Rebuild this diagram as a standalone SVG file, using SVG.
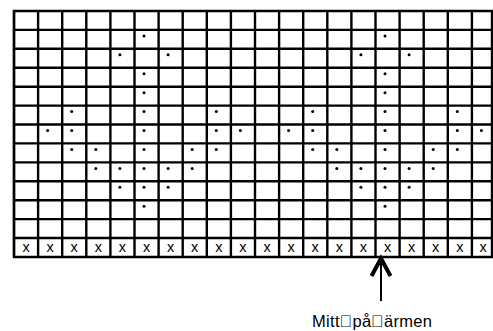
<svg xmlns="http://www.w3.org/2000/svg" width="493" height="331" viewBox="0 0 493 331">
<defs>
<style>
.g line{stroke:#000;stroke-width:2.4}
.x{font-family:"Liberation Sans",Arial,sans-serif;font-size:14.5px;text-anchor:middle;fill:#000}
.lbl{font-family:"Liberation Sans",Arial,sans-serif;font-size:16.5px;fill:#000}
.a{fill:none;stroke:#000}
</style>
<circle id="d" r="1.5" fill="#000"/>
</defs>
<rect width="493" height="331" fill="#fff"/>
<g id="grid" class="g">
<line x1="14" y1="11" x2="14" y2="257"/>
<line x1="38.1" y1="11" x2="38.1" y2="257"/>
<line x1="62.2" y1="11" x2="62.2" y2="257"/>
<line x1="86.3" y1="11" x2="86.3" y2="257"/>
<line x1="110.4" y1="11" x2="110.4" y2="257"/>
<line x1="134.5" y1="11" x2="134.5" y2="257"/>
<line x1="158.6" y1="11" x2="158.6" y2="257"/>
<line x1="182.7" y1="11" x2="182.7" y2="257"/>
<line x1="206.8" y1="11" x2="206.8" y2="257"/>
<line x1="230.9" y1="11" x2="230.9" y2="257"/>
<line x1="255" y1="11" x2="255" y2="257"/>
<line x1="279.1" y1="11" x2="279.1" y2="257"/>
<line x1="303.2" y1="11" x2="303.2" y2="257"/>
<line x1="327.3" y1="11" x2="327.3" y2="257"/>
<line x1="351.4" y1="11" x2="351.4" y2="257"/>
<line x1="375.5" y1="11" x2="375.5" y2="257"/>
<line x1="399.6" y1="11" x2="399.6" y2="257"/>
<line x1="423.7" y1="11" x2="423.7" y2="257"/>
<line x1="447.8" y1="11" x2="447.8" y2="257"/>
<line x1="471.9" y1="11" x2="471.9" y2="257"/>
<line x1="492" y1="11" x2="492" y2="257"/>
<line x1="13" y1="11" x2="493" y2="11"/>
<line x1="13" y1="29.9" x2="493" y2="29.9"/>
<line x1="13" y1="48.8" x2="493" y2="48.8"/>
<line x1="13" y1="67.8" x2="493" y2="67.8"/>
<line x1="13" y1="86.7" x2="493" y2="86.7"/>
<line x1="13" y1="105.6" x2="493" y2="105.6"/>
<line x1="13" y1="124.5" x2="493" y2="124.5"/>
<line x1="13" y1="143.4" x2="493" y2="143.4"/>
<line x1="13" y1="162.4" x2="493" y2="162.4"/>
<line x1="13" y1="181.3" x2="493" y2="181.3"/>
<line x1="13" y1="200.2" x2="493" y2="200.2"/>
<line x1="13" y1="219.1" x2="493" y2="219.1"/>
<line x1="13" y1="238" x2="493" y2="238"/>
<line x1="13" y1="257" x2="493" y2="257"/>
<line x1="14" y1="10" x2="14" y2="258" stroke-width="3"/>
</g>
<g id="dots">
<use href="#d" x="144" y="35.9"/><use href="#d" x="385" y="35.9"/>
<use href="#d" x="119.9" y="54.8"/><use href="#d" x="168.1" y="54.8"/><use href="#d" x="360.9" y="54.8"/><use href="#d" x="409.1" y="54.8"/>
<use href="#d" x="144" y="73.8"/><use href="#d" x="385" y="73.8"/>
<use href="#d" x="144" y="92.7"/><use href="#d" x="385" y="92.7"/>
<use href="#d" x="71.7" y="111.6"/><use href="#d" x="144" y="111.6"/><use href="#d" x="216.3" y="111.6"/><use href="#d" x="312.7" y="111.6"/><use href="#d" x="385" y="111.6"/><use href="#d" x="457.3" y="111.6"/>
<use href="#d" x="47.6" y="130.5"/><use href="#d" x="71.7" y="130.5"/><use href="#d" x="144" y="130.5"/><use href="#d" x="216.3" y="130.5"/><use href="#d" x="240.4" y="130.5"/><use href="#d" x="288.6" y="130.5"/><use href="#d" x="312.7" y="130.5"/><use href="#d" x="385" y="130.5"/><use href="#d" x="457.3" y="130.5"/><use href="#d" x="481.4" y="130.5"/>
<use href="#d" x="71.7" y="149.4"/><use href="#d" x="95.8" y="149.4"/><use href="#d" x="144" y="149.4"/><use href="#d" x="192.2" y="149.4"/><use href="#d" x="216.3" y="149.4"/><use href="#d" x="312.7" y="149.4"/><use href="#d" x="336.8" y="149.4"/><use href="#d" x="385" y="149.4"/><use href="#d" x="433.2" y="149.4"/><use href="#d" x="457.3" y="149.4"/>
<use href="#d" x="95.8" y="168.4"/><use href="#d" x="119.9" y="168.4"/><use href="#d" x="144" y="168.4"/><use href="#d" x="168.1" y="168.4"/><use href="#d" x="192.2" y="168.4"/><use href="#d" x="336.8" y="168.4"/><use href="#d" x="360.9" y="168.4"/><use href="#d" x="385" y="168.4"/><use href="#d" x="409.1" y="168.4"/><use href="#d" x="433.2" y="168.4"/>
<use href="#d" x="119.9" y="187.3"/><use href="#d" x="144" y="187.3"/><use href="#d" x="168.1" y="187.3"/><use href="#d" x="360.9" y="187.3"/><use href="#d" x="385" y="187.3"/><use href="#d" x="409.1" y="187.3"/>
<use href="#d" x="144" y="206.2"/><use href="#d" x="385" y="206.2"/>
</g>
<g id="xrow" class="x">
<text x="26" y="252">x</text><text x="50.1" y="252">x</text><text x="74.2" y="252">x</text><text x="98.3" y="252">x</text><text x="122.4" y="252">x</text><text x="146.5" y="252">x</text><text x="170.6" y="252">x</text><text x="194.7" y="252">x</text><text x="218.8" y="252">x</text><text x="242.9" y="252">x</text><text x="267" y="252">x</text><text x="291.1" y="252">x</text><text x="315.2" y="252">x</text><text x="339.3" y="252">x</text><text x="363.4" y="252">x</text><text x="387.5" y="252">x</text><text x="411.6" y="252">x</text><text x="435.7" y="252">x</text><text x="459.8" y="252">x</text><text x="483" y="252">x</text>
</g>
<g id="connectors">
<line class="a" x1="381" y1="262" x2="381" y2="301" stroke-width="2"/>
<polyline class="a" points="371.5,276 381,258.5 390.5,276" stroke-width="4"/>
</g>
<g id="label">
<text class="lbl" x="312" y="327" textLength="120" lengthAdjust="spacing">Mitt&#xE000;på&#xE000;ärmen</text>
</g>
</svg>
